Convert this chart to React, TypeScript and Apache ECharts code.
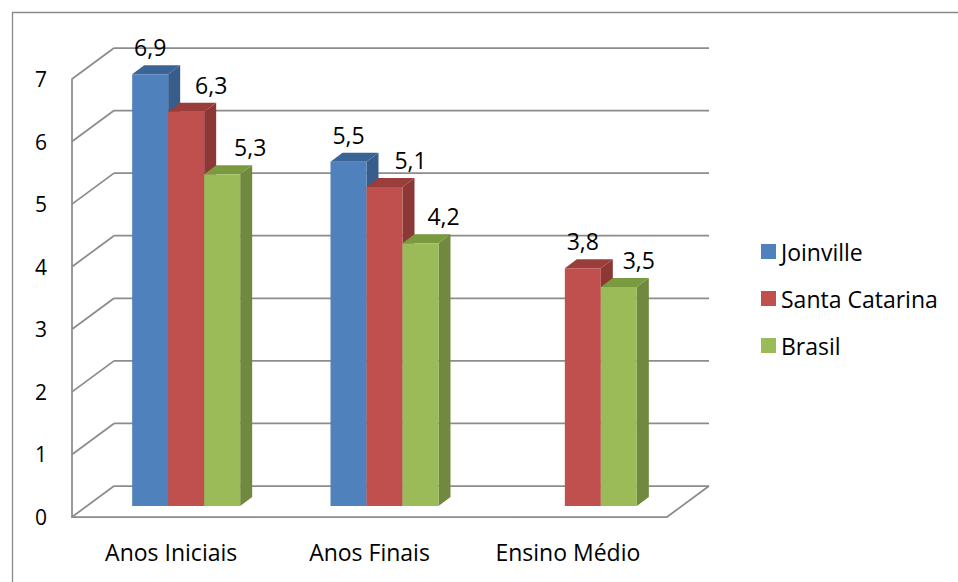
import React, { useEffect, useRef } from "react";
import * as echarts from "echarts";

const categories = ["Anos Iniciais", "Anos Finais", "Ensino Médio"];
const seriesNames = ["Joinville", "Santa Catarina", "Brasil"];
const joinville: (number | null)[] = [6.9, 5.5, null];
const santaCatarina: (number | null)[] = [6.3, 5.1, 3.8];
const brasil: (number | null)[] = [5.3, 4.2, 3.5];
const yTicks = [0, 1, 2, 3, 4, 5, 6, 7];

// label horizontal nudges (Excel-style placement), per series/category
const labelNudge = [
  [0, 0, 0],
  [25, 26, 0],
  [28, 23, 20],
];

const FRONT = ["#4F81BD", "#C0504D", "#9BBB59"];
const SIDE = ["#385D8A", "#8C3836", "#71893F"];
const TOP = ["#3B6496", "#9B3D3B", "#7A9A40"];

const WALL_DX = 42;
const WALL_DY = -31;
const PLANE_DX = 15; // bar plane offset from front plane
const PLANE_DY = -11;
const BAR_W = 36;
const BAR_DX = 12;
const BAR_DY = -9;
const GRID_COLOR = "#8C8C8C";
const FONT = "'Open Sans'";

export default function App() {
  const ref = useRef<HTMLDivElement>(null);
  useEffect(() => {
    if (!ref.current) return;
    const chart = echarts.init(ref.current, undefined, { renderer: "svg" });
    const seriesData = [joinville, santaCatarina, brasil];

    const barSeries = seriesData.map((arr, si) => ({
      type: "custom",
      name: seriesNames[si],
      coordinateSystem: "cartesian2d",
      clip: false,
      z: 10 + si,
      itemStyle: { color: FRONT[si] },
      encode: { x: 0, y: 1 },
      data: arr.map((v, ci) => [ci, v === null ? "-" : v]),
      renderItem: (params: any, api: any) => {
        const ci = api.value(0);
        const v = api.value(1);
        if (v === undefined || v === null || isNaN(v)) return null;
        const base = api.coord([ci, 0]);
        const top = api.coord([ci, v]);
        const groupCenter = base[0] + PLANE_DX;
        const x0 = groupCenter - 1.5 * BAR_W + si * BAR_W;
        const x1 = x0 + BAR_W;
        const yb = base[1] + PLANE_DY;
        const yt = top[1] + PLANE_DY;
        const label = String(v).replace(".", ",");
        return {
          type: "group",
          children: [
            {
              type: "polygon",
              shape: { points: [[x1, yt], [x1 + BAR_DX, yt + BAR_DY], [x1 + BAR_DX, yb + BAR_DY], [x1, yb]] },
              style: { fill: SIDE[si] },
            },
            {
              type: "polygon",
              shape: { points: [[x0, yt], [x0 + BAR_DX, yt + BAR_DY], [x1 + BAR_DX, yt + BAR_DY], [x1, yt]] },
              style: { fill: TOP[si] },
            },
            {
              type: "rect",
              shape: { x: x0, y: yt, width: BAR_W, height: yb - yt },
              style: { fill: FRONT[si] },
            },
            {
              type: "text",
              x: (x0 + x1) / 2 + labelNudge[si][ci],
              y: yt - 27,
              style: {
                text: label,
                fill: "#000",
                font: `23px ${FONT}`,
                align: "center",
                verticalAlign: "middle",
              },
            },
          ],
        };
      },
    }));

    const wallSeries = {
      type: "custom",
      name: "walls",
      coordinateSystem: "cartesian2d",
      clip: false,
      silent: true,
      z: 1,
      encode: { x: 0, y: 1 },
      data: yTicks.map((t) => [0, t]),
      renderItem: (params: any, api: any) => {
        const cs = params.coordSys;
        const t = api.value(1);
        const y = api.coord([0, t])[1];
        const xl = cs.x;
        const xr = cs.x + cs.width;
        const ls = { stroke: GRID_COLOR, lineWidth: 1.75 };
        const children: any[] = [
          { type: "line", shape: { x1: xl, y1: y, x2: xl + WALL_DX, y2: y + WALL_DY }, style: ls },
          { type: "line", shape: { x1: xl + WALL_DX, y1: y + WALL_DY, x2: xr + WALL_DX, y2: y + WALL_DY }, style: ls },
        ];
        if (t === 0) {
          children.push({ type: "line", shape: { x1: xr, y1: y, x2: xr + WALL_DX, y2: y + WALL_DY }, style: ls });
        }
        return { type: "group", children };
      },
    };

    chart.setOption({
      animation: false,
      backgroundColor: "#fff",
      textStyle: { fontFamily: FONT },
      graphic: [
        {
          type: "rect",
          left: 10,
          top: 10,
          shape: { x: 0, y: 0, width: 980, height: 600 },
          style: { fill: "none", stroke: "#8A8A8A", lineWidth: 1.3 },
          silent: true,
        },
      ],
      legend: {
        orient: "vertical",
        left: 761,
        top: 240,
        itemWidth: 15,
        itemHeight: 15,
        itemGap: 24,
        padding: 0,
        icon: "rect",
        data: seriesNames,
        textStyle: { fontSize: 23, color: "#000", fontFamily: FONT },
      },
      grid: { left: 72, top: 79, width: 595, height: 438 },
      xAxis: {
        type: "category",
        data: categories,
        boundaryGap: true,
        axisLine: { show: true, lineStyle: { color: GRID_COLOR, width: 1.75 } },
        axisTick: { show: false },
        axisLabel: { color: "#000", fontSize: 23, margin: 23, fontFamily: FONT },
      },
      yAxis: {
        type: "value",
        min: 0,
        max: 7,
        interval: 1,
        axisLine: { show: true, lineStyle: { color: GRID_COLOR, width: 1.75 } },
        axisTick: { show: false },
        splitLine: { show: false },
        axisLabel: { color: "#000", fontSize: 21, margin: 25, fontFamily: FONT },
      },
      series: [wallSeries, ...barSeries],
    });
    return () => chart.dispose();
  }, []);
  return (
    <div
      ref={ref}
      style={{ position: "fixed", left: 0, top: 0, width: 958, height: 582 }}
    />
  );
}
